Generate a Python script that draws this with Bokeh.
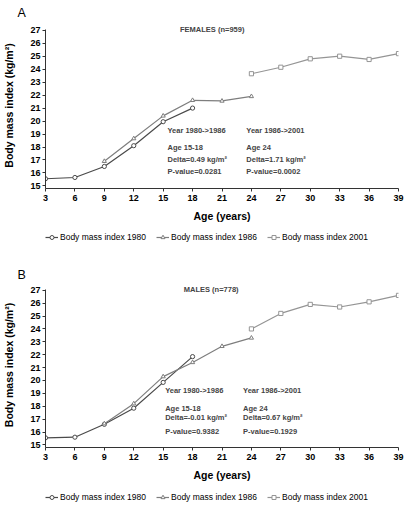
from bokeh.plotting import figure
from bokeh.layouts import column
from bokeh.models import Legend, LegendItem, Label, FixedTicker, Range1d, Title
from bokeh.embed import file_html
from bokeh.resources import INLINE

# ---- data ----
ages_1980 = [3, 6, 9, 12, 15, 18]
ages_1986 = [9, 12, 15, 18, 21, 24]
ages_2001 = [24, 27, 30, 33, 36, 39]

f_bmi_1980 = [15.55, 15.65, 16.5, 18.1, 19.95, 21.0]
f_bmi_1986 = [16.9, 18.65, 20.4, 21.6, 21.55, 21.9]
f_bmi_2001 = [23.65, 24.15, 24.8, 25.0, 24.75, 25.2]

m_bmi_1980 = [15.55, 15.6, 16.6, 17.85, 19.85, 21.85]
m_bmi_1986 = [16.65, 18.2, 20.3, 21.4, 22.65, 23.3]
m_bmi_2001 = [24.0, 25.2, 25.9, 25.7, 26.1, 26.6]

x_ticks = [3, 6, 9, 12, 15, 18, 21, 24, 27, 30, 33, 36, 39]
y_ticks = list(range(15, 28))
series_names = ["Body mass index 1980", "Body mass index 1986", "Body mass index 2001"]

f_notes_left = ["Year 1980->1986", "Age 15-18", "Delta=0.49 kg/m\u00b2", "P-value=0.0281"]
f_notes_right = ["Year 1986->2001", "Age 24", "Delta=1.71 kg/m\u00b2", "P-value=0.0002"]
m_notes_left = ["Year 1980->1986", "Age 15-18", "Delta=-0.01 kg/m\u00b2", "P-value=0.9382"]
m_notes_right = ["Year 1986->2001", "Age 24", "Delta=0.67 kg/m\u00b2", "P-value=0.1929"]

FONT = "Liberation Sans"
COLORS = ["#4a4a4a", "#7e7e7e", "#959595"]
MARKERS = ["circle", "triangle", "square"]


def draw_series(p, series):
    rs = []
    for (ages, vals), col, mk in zip(series, COLORS, MARKERS):
        r1 = p.line(ages, vals, line_color=col, line_width=1.2)
        r2 = p.scatter(ages, vals, marker=mk, size=4.2, line_color=col, fill_color="white", line_width=1)
        rs.append([r1, r2])
    return rs


def make_panel(letter, letter_standoff, title, series, notes_l, notes_r, note_y, note_x, height):
    p = figure(width=416, height=height, x_range=Range1d(3, 39), y_range=Range1d(14.8, 27.6),
               output_backend="svg", toolbar_location=None,
               min_border_left=43, min_border_right=18, min_border_top=22, min_border_bottom=38)
    p.outline_line_color = None
    p.xgrid.visible = False
    p.ygrid.visible = False
    p.background_fill_color = "white"
    p.border_fill_color = "white"

    for ax in (p.xaxis[0], p.yaxis[0]):
        ax.axis_line_color = "#333333"
        ax.major_tick_line_color = "#333333"
        ax.major_tick_in = 0
        ax.major_tick_out = 3
        ax.minor_tick_line_color = None
        ax.major_label_text_font = FONT
        ax.major_label_text_font_style = "bold"
        ax.major_label_text_font_size = "9px"
        ax.major_label_text_color = "black"
        ax.axis_label_text_font = FONT
        ax.axis_label_text_font_style = "bold"
        ax.axis_label_text_color = "black"
    p.xaxis.ticker = FixedTicker(ticks=x_ticks)
    p.yaxis.ticker = FixedTicker(ticks=y_ticks)
    p.yaxis.bounds = (14.8, 27.05)
    p.xaxis.major_label_standoff = 3
    p.yaxis.major_label_standoff = 2
    p.xaxis.axis_label = "Age (years)"
    p.xaxis.axis_label_text_font_size = "10.5px"
    p.xaxis.axis_label_standoff = 6
    p.yaxis.axis_label = "Body mass index (kg/m\u00b2)"
    p.yaxis.axis_label_text_font_size = "10.5px"
    p.yaxis.axis_label_standoff = 12

    draw_series(p, series)

    p.add_layout(Title(text=letter, align="left", offset=-28, standoff=letter_standoff,
                       text_font=FONT, text_font_size="12.5px", text_font_style="normal",
                       text_color="black"), "above")

    p.add_layout(Label(x=20.0, y=27.08, text=title, text_align="center", text_baseline="middle",
                       text_font=FONT, text_font_size="7.5px", text_font_style="bold"))
    for col_x, notes in zip(note_x, (notes_l, notes_r)):
        for ty, t in zip(note_y, notes):
            p.add_layout(Label(x=col_x, y=ty, text=t, text_align="left", text_baseline="middle",
                               text_font=FONT, text_font_size="7.5px", text_font_style="bold"))
    return p


def make_legend(series, height, vy):
    # legend strip: the series are drawn outside its view, only the legend shows
    q = figure(width=416, height=height, x_range=Range1d(0, 1), y_range=Range1d(0, 1),
               x_axis_type=None, y_axis_type=None, output_backend="svg", toolbar_location=None,
               min_border_left=0, min_border_right=0, min_border_top=0, min_border_bottom=0)
    q.outline_line_color = None
    q.xgrid.visible = False
    q.ygrid.visible = False
    rs = draw_series(q, series)
    items = [LegendItem(label=n, renderers=r) for n, r in zip(series_names, rs)]
    legend = Legend(items=items, orientation="horizontal", location=(0, vy),
                    glyph_width=13, glyph_height=10, label_height=10, label_standoff=2, spacing=10,
                    padding=0, margin=0, border_line_color=None, background_fill_alpha=0,
                    label_text_font=FONT, label_text_font_size="8.5px", label_text_color="black")
    q.add_layout(legend)
    return q


f_series = [(ages_1980, f_bmi_1980), (ages_1986, f_bmi_1986), (ages_2001, f_bmi_2001)]
m_series = [(ages_1980, m_bmi_1980), (ages_1986, m_bmi_1986), (ages_2001, m_bmi_2001)]

pa = make_panel("A", 4.5, "FEMALES (n=959)", f_series,
                f_notes_left, f_notes_right, [19.25, 17.97, 17.02, 16.11], [15.44, 23.48], 226)
la = make_legend(f_series, 34, 18)
pb = make_panel("B", 0.5, "MALES  (n=778)", m_series,
                m_notes_left, m_notes_right, [19.19, 17.83, 17.13, 16.07], [15.2, 23.15], 225)
lb = make_legend(m_series, 25, 8)

layout = column(pa, la, pb, lb, spacing=0)
open("out.html", "w").write(file_html(layout, INLINE))
